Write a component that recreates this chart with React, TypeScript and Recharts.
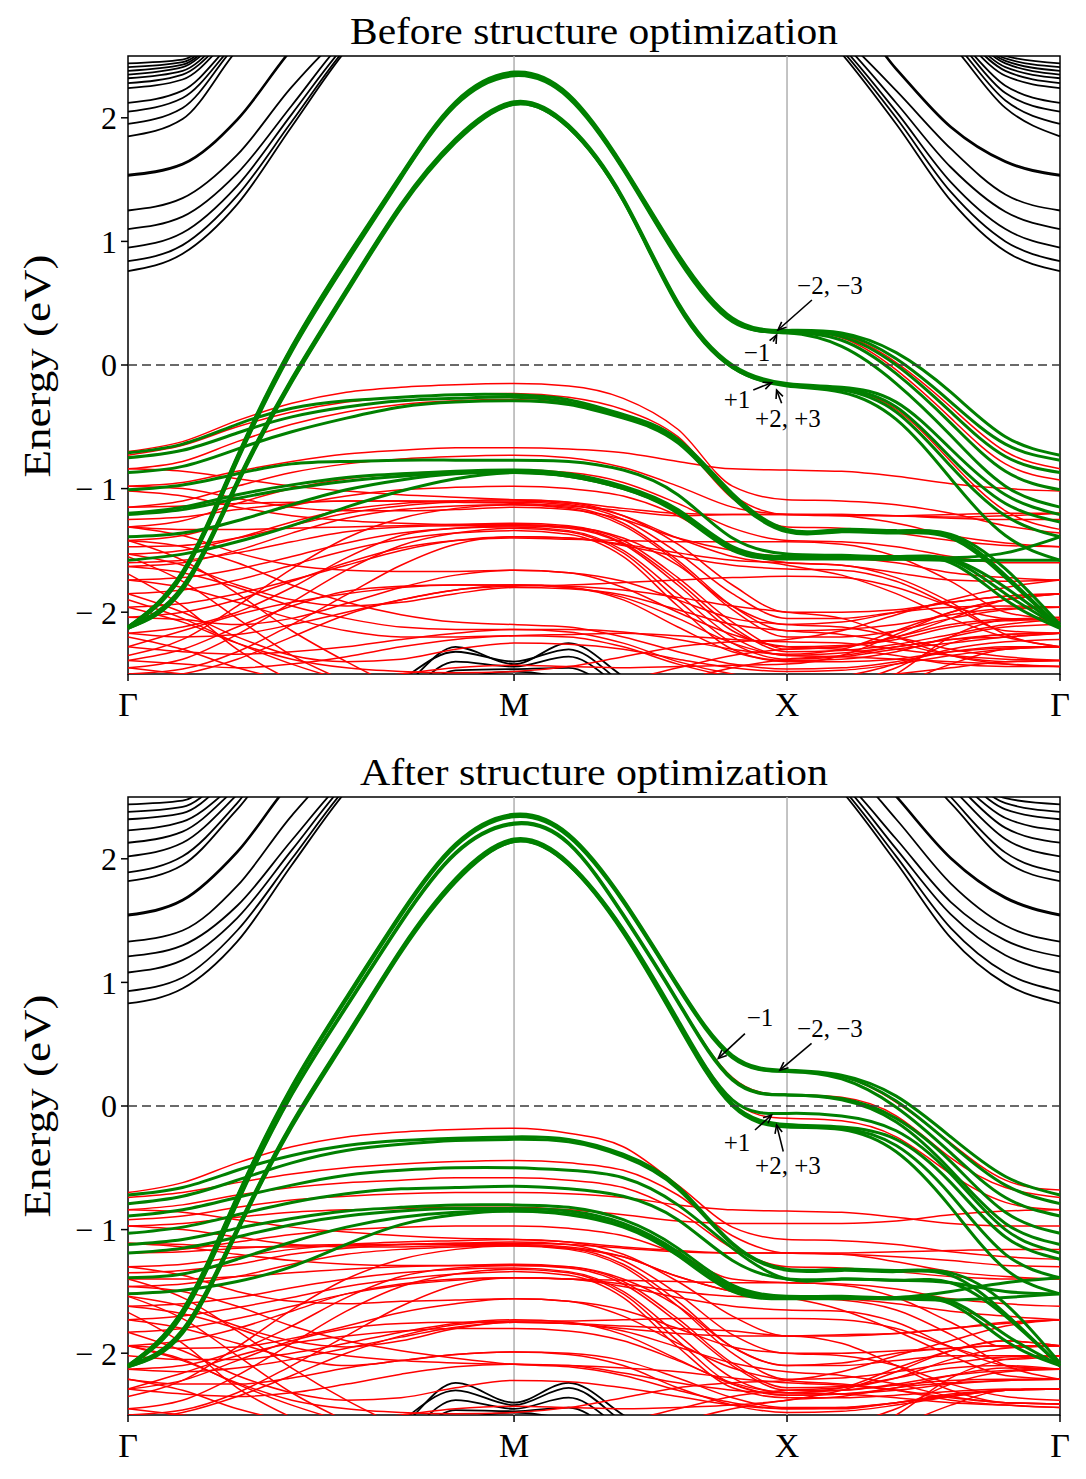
import React from 'react';
import { LineChart, Line, XAxis, YAxis, ReferenceLine, ReferenceArea, ReferenceDot } from 'recharts';

// k-path grid: Γ(0) -> M(0.7071) -> X(1.2071) -> Γ(1.7071)
const K = [0, 0.1, 0.2, 0.3, 0.4, 0.5, 0.6, 0.7071, 0.8071, 0.9071, 1.0071, 1.1071, 1.2071, 1.3071, 1.4071, 1.5071, 1.6071, 1.7071];
const K_TICKS = [0, 0.7071, 1.2071, 1.7071];
const K_LABELS = ['Γ', 'M', 'X', 'Γ'];
const E_TICKS = [-2, -1, 0, 1, 2];
const TITLES = ['Before structure optimization', 'After structure optimization'];
const Y_LABEL = 'Energy (eV)';

// ---------- BEFORE (top panel) ----------
const beforeBlackCond: number[][] = [
  [0.76, 0.90, 1.30, 1.93, 2.55, 3.0, 3.0, 3.0, 3.0, 3.0, 3.0, 3.0, 3.0, 2.52, 1.95, 1.33, 0.92, 0.76],
  [0.84, 0.97, 1.37, 1.97, 2.57, 3.0, 3.0, 3.0, 3.0, 3.0, 3.0, 3.0, 3.0, 2.55, 2.00, 1.40, 1.00, 0.84],
  [0.95, 1.07, 1.45, 2.03, 2.60, 3.0, 3.0, 3.0, 3.0, 3.0, 3.0, 3.0, 3.0, 2.58, 2.05, 1.48, 1.10, 0.95],
  [1.10, 1.20, 1.55, 2.10, 2.65, 3.0, 3.0, 3.0, 3.0, 3.0, 3.0, 3.0, 3.0, 2.62, 2.12, 1.60, 1.24, 1.10],
  [1.25, 1.35, 1.70, 2.25, 2.70, 3.0, 3.0, 3.0, 3.0, 3.0, 3.0, 3.0, 3.0, 2.66, 2.22, 1.75, 1.38, 1.25],
  [1.53, 1.62, 1.98, 2.55, 3.0, 3.0, 3.0, 3.0, 3.0, 3.0, 3.0, 3.0, 3.0, 2.90, 2.39, 1.92, 1.64, 1.53],
  [1.54, 1.63, 1.99, 2.56, 3.0, 3.0, 3.0, 3.0, 3.0, 3.0, 3.0, 3.0, 3.0, 2.91, 2.40, 1.93, 1.65, 1.54],
  [1.85, 1.99, 2.55, 3.0, 3.0, 3.0, 3.0, 3.0, 3.0, 3.0, 3.0, 3.0, 3.0, 3.0, 3.0, 2.60, 2.08, 1.85],
  [1.95, 2.08, 2.60, 3.0, 3.0, 3.0, 3.0, 3.0, 3.0, 3.0, 3.0, 3.0, 3.0, 3.0, 3.0, 2.64, 2.14, 1.95],
  [2.05, 2.16, 2.62, 3.0, 3.0, 3.0, 3.0, 3.0, 3.0, 3.0, 3.0, 3.0, 3.0, 3.0, 3.0, 2.68, 2.20, 2.05],
  [2.12, 2.22, 2.65, 3.0, 3.0, 3.0, 3.0, 3.0, 3.0, 3.0, 3.0, 3.0, 3.0, 3.0, 3.0, 2.70, 2.26, 2.12],
  [2.24, 2.31, 2.70, 3.0, 3.0, 3.0, 3.0, 3.0, 3.0, 3.0, 3.0, 3.0, 3.0, 3.0, 3.0, 2.73, 2.34, 2.24],
  [2.28, 2.35, 2.72, 3.0, 3.0, 3.0, 3.0, 3.0, 3.0, 3.0, 3.0, 3.0, 3.0, 3.0, 3.0, 2.75, 2.38, 2.28],
  [2.32, 2.38, 2.75, 3.0, 3.0, 3.0, 3.0, 3.0, 3.0, 3.0, 3.0, 3.0, 3.0, 3.0, 3.0, 2.78, 2.41, 2.32],
  [2.35, 2.41, 2.78, 3.0, 3.0, 3.0, 3.0, 3.0, 3.0, 3.0, 3.0, 3.0, 3.0, 3.0, 3.0, 2.80, 2.44, 2.35],
  [2.38, 2.43, 2.80, 3.0, 3.0, 3.0, 3.0, 3.0, 3.0, 3.0, 3.0, 3.0, 3.0, 3.0, 3.0, 2.82, 2.46, 2.38],
  [2.41, 2.45, 2.82, 3.0, 3.0, 3.0, 3.0, 3.0, 3.0, 3.0, 3.0, 3.0, 3.0, 3.0, 3.0, 2.84, 2.48, 2.41],
  [2.44, 2.47, 2.85, 3.0, 3.0, 3.0, 3.0, 3.0, 3.0, 3.0, 3.0, 3.0, 3.0, 3.0, 3.0, 2.86, 2.50, 2.44],
];

const beforeBlackVal: number[][] = [
  [-3, -3, -3, -3, -2.9, -2.62, -2.28, -2.42, -2.25, -2.52, -2.8, -3, -3, -3, -3, -3, -3, -3],
  [-3, -3, -3, -3, -2.9, -2.55, -2.32, -2.40, -2.30, -2.58, -2.9, -3, -3, -3, -3, -3, -3, -3],
  [-3, -3, -3, -3, -3, -2.70, -2.40, -2.44, -2.36, -2.62, -2.9, -3, -3, -3, -3, -3, -3, -3],
  [-3, -3, -3, -3, -3, -2.75, -2.47, -2.46, -2.45, -2.70, -3, -3, -3, -3, -3, -3, -3, -3],
  [-3, -3, -3, -3, -3, -2.90, -2.55, -2.48, -2.55, -2.80, -3, -3, -3, -3, -3, -3, -3, -3],
];

const beforeRed: number[][] = [
  [-2.12, -1.67, -0.74, 0.15, 0.87, 1.54, 2.12, 2.35, 2.17, 1.59, 0.88, 0.37, 0.27, 0.24, 0.02, -0.34, -0.70, -0.84],
  [-2.13, -1.69, -0.77, 0.12, 0.85, 1.52, 2.11, 2.35, 2.17, 1.59, 0.88, 0.37, 0.27, 0.22, -0.04, -0.43, -0.80, -0.93],
  [-2.12, -1.81, -0.96, -0.12, 0.59, 1.29, 1.82, 2.12, 1.93, 1.34, 0.50, -0.01, -0.16, -0.19, -0.36, -0.78, -1.18, -1.33],
  [-0.70, -0.62, -0.45, -0.31, -0.22, -0.18, -0.16, -0.15, -0.17, -0.27, -0.52, -0.98, -1.09, -1.10, -1.13, -1.20, -1.30, -1.36],
  [-0.73, -0.65, -0.50, -0.38, -0.30, -0.26, -0.24, -0.23, -0.26, -0.36, -0.58, -1.05, -1.21, -1.21, -1.22, -1.24, -1.25, -1.25],
  [-0.84, -0.78, -0.62, -0.48, -0.38, -0.32, -0.29, -0.28, -0.31, -0.41, -0.62, -1.08, -1.31, -1.32, -1.36, -1.42, -1.46, -1.47],
  [-0.98, -0.95, -0.86, -0.78, -0.72, -0.69, -0.67, -0.67, -0.68, -0.71, -0.78, -0.84, -0.85, -0.86, -0.90, -0.96, -1.00, -1.02],
  [-1.15, -1.10, -0.98, -0.87, -0.80, -0.76, -0.74, -0.73, -0.75, -0.83, -0.98, -1.15, -1.21, -1.22, -1.22, -1.21, -1.20, -1.20],
  [-1.31, -1.26, -1.12, -1.00, -0.92, -0.88, -0.86, -0.85, -0.87, -0.95, -1.12, -1.32, -1.42, -1.43, -1.47, -1.55, -1.60, -1.60],
  [-1.42, -1.38, -1.26, -1.14, -1.06, -1.01, -0.99, -0.98, -1.00, -1.06, -1.22, -1.48, -1.60, -1.62, -1.68, -1.74, -1.75, -1.74],
  [-1.53, -1.50, -1.40, -1.27, -1.17, -1.12, -1.10, -1.09, -1.11, -1.22, -1.45, -1.78, -2.00, -2.00, -1.98, -1.92, -1.87, -1.85],
  [-1.63, -1.60, -1.50, -1.36, -1.24, -1.17, -1.14, -1.13, -1.16, -1.30, -1.60, -1.98, -2.20, -2.20, -2.15, -2.05, -1.98, -1.96],
  [-1.31, -1.33, -1.33, -1.32, -1.31, -1.30, -1.29, -1.28, -1.30, -1.42, -1.72, -2.08, -2.30, -2.28, -2.20, -2.10, -2.06, -2.06],
  [-1.74, -1.72, -1.65, -1.55, -1.44, -1.36, -1.32, -1.31, -1.34, -1.50, -1.85, -2.20, -2.35, -2.33, -2.28, -2.22, -2.18, -2.17],
  [-1.85, -1.82, -1.74, -1.62, -1.50, -1.41, -1.36, -1.34, -1.37, -1.55, -1.95, -2.30, -2.40, -2.40, -2.38, -2.32, -2.29, -2.28],
  [-1.96, -1.93, -1.85, -1.74, -1.62, -1.50, -1.42, -1.39, -1.40, -1.45, -1.52, -1.58, -1.60, -1.62, -1.72, -1.92, -2.18, -2.28],
  [-2.04, -2.06, -2.10, -2.05, -1.93, -1.80, -1.70, -1.66, -1.68, -1.80, -2.00, -2.18, -2.28, -2.30, -2.35, -2.42, -2.44, -2.44],
  [-2.17, -2.20, -2.18, -2.10, -2.00, -1.90, -1.82, -1.78, -1.80, -1.90, -2.12, -2.32, -2.39, -2.38, -2.32, -2.20, -2.12, -2.10],
  [-2.28, -2.32, -2.34, -2.32, -2.28, -2.22, -2.17, -2.14, -2.16, -2.25, -2.40, -2.50, -2.55, -2.55, -2.50, -2.45, -2.40, -2.39],
  [-2.39, -2.42, -2.45, -2.42, -2.36, -2.28, -2.22, -2.19, -2.18, -2.17, -2.19, -2.22, -2.24, -2.25, -2.30, -2.35, -2.38, -2.39],
  [-1.42, -1.58, -1.85, -2.15, -2.40, -2.62, -2.80, -2.90, -2.90, -2.90, -2.90, -2.90, -2.90, -2.80, -2.60, -2.42, -2.30, -2.28],
  [-1.55, -1.75, -2.05, -2.35, -2.56, -2.75, -2.90, -2.95, -2.95, -2.95, -2.95, -2.95, -2.90, -2.70, -2.50, -2.20, -2.06, -2.04],
  [-1.69, -1.95, -2.30, -2.55, -2.70, -2.80, -2.90, -2.95, -2.95, -2.95, -2.95, -2.90, -2.80, -2.60, -2.45, -2.25, -2.18, -2.17],
  [-1.47, -1.46, -1.40, -1.30, -1.20, -1.14, -1.11, -1.11, -1.13, -1.25, -1.52, -1.85, -2.05, -2.05, -2.00, -1.96, -1.95, -1.96],
  [-1.60, -1.58, -1.52, -1.43, -1.35, -1.31, -1.30, -1.30, -1.32, -1.45, -1.78, -2.15, -2.28, -2.27, -2.22, -2.12, -2.07, -2.06],
  [-1.25, -1.23, -1.17, -1.12, -1.10, -1.10, -1.11, -1.12, -1.14, -1.18, -1.22, -1.21, -1.21, -1.21, -1.22, -1.23, -1.22, -1.20],
  [-2.45, -2.50, -2.55, -2.60, -2.55, -2.50, -2.45, -2.43, -2.44, -2.45, -2.44, -2.43, -2.42, -2.35, -2.18, -2.00, -1.90, -1.85],
  [-2.55, -2.50, -2.38, -2.20, -2.02, -1.90, -1.82, -1.79, -1.78, -1.76, -1.74, -1.72, -1.71, -1.72, -1.80, -1.95, -2.05, -2.06],
  [-1.31, -1.38, -1.52, -1.62, -1.66, -1.67, -1.67, -1.66, -1.68, -1.75, -1.90, -2.05, -2.10, -2.12, -2.20, -2.30, -2.36, -2.39],
  [-2.04, -2.00, -1.90, -1.75, -1.60, -1.48, -1.42, -1.40, -1.41, -1.42, -1.43, -1.43, -1.43, -1.45, -1.55, -1.75, -2.00, -2.06],
  [-0.98, -1.00, -1.08, -1.15, -1.18, -1.18, -1.17, -1.15, -1.17, -1.25, -1.40, -1.50, -1.55, -1.56, -1.60, -1.68, -1.72, -1.74],
  [-1.85, -2.00, -2.20, -2.35, -2.40, -2.38, -2.30, -2.25, -2.26, -2.30, -2.38, -2.45, -2.48, -2.47, -2.42, -2.35, -2.30, -2.28],
  [-2.28, -2.15, -2.02, -1.92, -1.85, -1.80, -1.78, -1.78, -1.80, -1.88, -2.05, -2.25, -2.35, -2.36, -2.38, -2.40, -2.42, -2.44],
  [-2.45, -2.38, -2.18, -1.92, -1.66, -1.46, -1.36, -1.32, -1.35, -1.52, -1.90, -2.25, -2.38, -2.36, -2.30, -2.25, -2.20, -2.17],
  [-2.35, -2.22, -1.95, -1.65, -1.40, -1.24, -1.16, -1.13, -1.15, -1.28, -1.58, -1.95, -2.15, -2.14, -2.10, -2.02, -1.97, -1.96],
  [-1.02, -1.06, -1.15, -1.22, -1.26, -1.28, -1.29, -1.29, -1.31, -1.44, -1.75, -2.12, -2.32, -2.31, -2.26, -2.18, -2.10, -2.06],
  [-1.90, -2.05, -2.25, -2.42, -2.55, -2.62, -2.65, -2.65, -2.60, -2.55, -2.45, -2.35, -2.30, -2.28, -2.20, -2.05, -1.90, -1.85],
  [-2.20, -2.30, -2.45, -2.55, -2.60, -2.60, -2.60, -2.60, -2.60, -2.60, -2.55, -2.45, -2.38, -2.35, -2.28, -2.22, -2.20, -2.17],
  [-1.63, -1.68, -1.80, -1.95, -2.05, -2.12, -2.14, -2.14, -2.14, -2.16, -2.22, -2.30, -2.34, -2.30, -2.15, -2.00, -1.90, -1.85],
  [-1.74, -1.80, -1.92, -2.05, -2.15, -2.20, -2.20, -2.19, -2.20, -2.28, -2.42, -2.52, -2.55, -2.52, -2.42, -2.30, -2.24, -2.22],
  [-0.84, -0.86, -0.92, -0.98, -1.02, -1.05, -1.07, -1.09, -1.11, -1.16, -1.20, -1.21, -1.21, -1.22, -1.28, -1.38, -1.44, -1.47],
  [-1.15, -1.14, -1.12, -1.11, -1.10, -1.10, -1.10, -1.10, -1.12, -1.22, -1.40, -1.55, -1.62, -1.70, -1.85, -2.05, -2.20, -2.28],
  [-2.39, -2.30, -2.12, -1.95, -1.83, -1.79, -1.78, -1.78, -1.79, -1.82, -1.88, -1.95, -2.00, -2.05, -2.20, -2.35, -2.42, -2.44],
  [-2.50, -2.46, -2.32, -2.10, -1.86, -1.62, -1.45, -1.39, -1.40, -1.46, -1.55, -1.62, -1.65, -1.66, -1.75, -1.95, -2.15, -2.17],
  [-1.53, -1.62, -1.78, -1.90, -1.95, -1.92, -1.85, -1.80, -1.81, -1.86, -1.98, -2.10, -2.15, -2.18, -2.25, -2.35, -2.40, -2.39],
  [-2.17, -2.12, -2.00, -1.80, -1.56, -1.38, -1.32, -1.30, -1.31, -1.40, -1.62, -1.95, -2.10, -2.08, -2.00, -1.92, -1.87, -1.85],
  [-1.96, -2.08, -2.25, -2.38, -2.45, -2.48, -2.49, -2.48, -2.44, -2.36, -2.28, -2.24, -2.22, -2.15, -2.02, -1.90, -1.80, -1.74],
  [-1.42, -1.47, -1.60, -1.78, -1.92, -2.02, -2.08, -2.10, -2.12, -2.20, -2.32, -2.42, -2.46, -2.45, -2.40, -2.32, -2.28, -2.28],
];

const beforeGreen: number[][] = [
  [-2.12, -1.67, -0.74, 0.15, 0.87, 1.54, 2.13, 2.37, 2.19, 1.61, 0.90, 0.38, 0.28, 0.26, 0.10, -0.22, -0.58, -0.73],
  [-2.12, -1.68, -0.75, 0.14, 0.86, 1.53, 2.12, 2.36, 2.18, 1.60, 0.89, 0.37, 0.27, 0.25, 0.05, -0.30, -0.64, -0.77],
  [-2.12, -1.69, -0.76, 0.13, 0.85, 1.52, 2.11, 2.35, 2.17, 1.59, 0.88, 0.36, 0.27, 0.23, 0.00, -0.38, -0.74, -0.87],
  [-2.13, -1.69, -0.77, 0.12, 0.84, 1.52, 2.11, 2.35, 2.17, 1.59, 0.87, 0.36, 0.26, 0.20, -0.07, -0.47, -0.86, -1.01],
  [-2.13, -1.70, -0.78, 0.11, 0.83, 1.51, 2.10, 2.34, 2.16, 1.58, 0.86, 0.35, 0.26, 0.15, -0.15, -0.57, -0.98, -1.15],
  [-2.12, -1.79, -0.94, -0.11, 0.61, 1.30, 1.83, 2.13, 1.94, 1.35, 0.51, 0.00, -0.15, -0.18, -0.30, -0.68, -1.05, -1.21],
  [-2.12, -1.80, -0.95, -0.12, 0.60, 1.29, 1.82, 2.12, 1.93, 1.34, 0.50, -0.01, -0.16, -0.19, -0.34, -0.75, -1.12, -1.27],
  [-2.13, -1.81, -0.96, -0.13, 0.59, 1.28, 1.81, 2.11, 1.92, 1.33, 0.49, -0.02, -0.16, -0.20, -0.38, -0.82, -1.22, -1.39],
  [-2.13, -1.82, -0.97, -0.14, 0.58, 1.27, 1.80, 2.11, 1.92, 1.33, 0.48, -0.02, -0.17, -0.22, -0.44, -0.92, -1.38, -1.58],
  [-0.71, -0.64, -0.48, -0.35, -0.29, -0.26, -0.24, -0.24, -0.28, -0.40, -0.60, -1.04, -1.33, -1.33, -1.34, -1.37, -1.65, -2.10],
  [-0.75, -0.69, -0.55, -0.42, -0.34, -0.29, -0.27, -0.26, -0.30, -0.42, -0.62, -1.06, -1.34, -1.34, -1.35, -1.38, -1.70, -2.12],
  [-0.87, -0.82, -0.68, -0.54, -0.43, -0.34, -0.30, -0.29, -0.32, -0.43, -0.63, -1.07, -1.35, -1.35, -1.36, -1.40, -1.72, -2.12],
  [-1.01, -0.97, -0.88, -0.80, -0.78, -0.77, -0.77, -0.77, -0.78, -0.85, -1.05, -1.40, -1.53, -1.54, -1.55, -1.57, -1.80, -2.12],
  [-1.20, -1.15, -1.05, -0.97, -0.91, -0.88, -0.86, -0.85, -0.88, -0.98, -1.17, -1.47, -1.55, -1.55, -1.56, -1.58, -1.85, -2.12],
  [-1.21, -1.17, -1.08, -1.00, -0.94, -0.90, -0.87, -0.86, -0.89, -0.99, -1.18, -1.48, -1.56, -1.56, -1.57, -1.60, -1.90, -2.13],
  [-1.39, -1.36, -1.26, -1.13, -1.01, -0.93, -0.88, -0.87, -0.90, -1.00, -1.19, -1.49, -1.56, -1.56, -1.57, -1.58, -1.58, -1.58],
  [-1.58, -1.53, -1.43, -1.30, -1.15, -1.02, -0.92, -0.87, -0.90, -1.00, -1.20, -1.50, -1.57, -1.57, -1.57, -1.56, -1.52, -1.39],
];

// ---------- AFTER (bottom panel) ----------
const afterBlackCond: number[][] = [
  [0.83, 0.95, 1.33, 1.95, 2.55, 3.0, 3.0, 3.0, 3.0, 3.0, 3.0, 3.0, 3.0, 2.55, 1.97, 1.36, 0.99, 0.83],
  [0.93, 1.04, 1.42, 2.00, 2.58, 3.0, 3.0, 3.0, 3.0, 3.0, 3.0, 3.0, 3.0, 2.58, 2.02, 1.44, 1.08, 0.93],
  [1.08, 1.18, 1.52, 2.07, 2.62, 3.0, 3.0, 3.0, 3.0, 3.0, 3.0, 3.0, 3.0, 2.62, 2.08, 1.55, 1.22, 1.08],
  [1.21, 1.30, 1.62, 2.15, 2.66, 3.0, 3.0, 3.0, 3.0, 3.0, 3.0, 3.0, 3.0, 2.66, 2.16, 1.65, 1.34, 1.21],
  [1.33, 1.42, 1.78, 2.35, 2.80, 3.0, 3.0, 3.0, 3.0, 3.0, 3.0, 3.0, 3.0, 2.80, 2.32, 1.80, 1.46, 1.33],
  [1.54, 1.66, 2.05, 2.62, 3.0, 3.0, 3.0, 3.0, 3.0, 3.0, 3.0, 3.0, 3.0, 3.0, 2.50, 2.00, 1.68, 1.54],
  [1.55, 1.67, 2.06, 2.63, 3.0, 3.0, 3.0, 3.0, 3.0, 3.0, 3.0, 3.0, 3.0, 3.0, 2.51, 2.01, 1.69, 1.55],
  [1.82, 1.95, 2.40, 2.90, 3.0, 3.0, 3.0, 3.0, 3.0, 3.0, 3.0, 3.0, 3.0, 3.0, 2.90, 2.45, 1.98, 1.82],
  [1.89, 2.02, 2.45, 3.0, 3.0, 3.0, 3.0, 3.0, 3.0, 3.0, 3.0, 3.0, 3.0, 3.0, 3.0, 2.50, 2.05, 1.89],
  [2.02, 2.13, 2.52, 3.0, 3.0, 3.0, 3.0, 3.0, 3.0, 3.0, 3.0, 3.0, 3.0, 3.0, 3.0, 2.58, 2.16, 2.02],
  [2.13, 2.22, 2.58, 3.0, 3.0, 3.0, 3.0, 3.0, 3.0, 3.0, 3.0, 3.0, 3.0, 3.0, 3.0, 2.64, 2.25, 2.13],
  [2.23, 2.30, 2.62, 3.0, 3.0, 3.0, 3.0, 3.0, 3.0, 3.0, 3.0, 3.0, 3.0, 3.0, 3.0, 2.68, 2.33, 2.23],
  [2.32, 2.37, 2.70, 3.0, 3.0, 3.0, 3.0, 3.0, 3.0, 3.0, 3.0, 3.0, 3.0, 3.0, 3.0, 2.74, 2.40, 2.32],
  [2.38, 2.42, 2.75, 3.0, 3.0, 3.0, 3.0, 3.0, 3.0, 3.0, 3.0, 3.0, 3.0, 3.0, 3.0, 2.78, 2.45, 2.38],
  [2.44, 2.47, 2.80, 3.0, 3.0, 3.0, 3.0, 3.0, 3.0, 3.0, 3.0, 3.0, 3.0, 3.0, 3.0, 2.82, 2.49, 2.44],
];

const afterBlackVal: number[][] = [
  [-3, -3, -3, -3, -2.9, -2.60, -2.24, -2.40, -2.24, -2.50, -2.8, -3, -3, -3, -3, -3, -3, -3],
  [-3, -3, -3, -3, -2.9, -2.55, -2.30, -2.42, -2.28, -2.56, -2.9, -3, -3, -3, -3, -3, -3, -3],
  [-3, -3, -3, -3, -3, -2.70, -2.38, -2.45, -2.36, -2.62, -2.9, -3, -3, -3, -3, -3, -3, -3],
  [-3, -3, -3, -3, -3, -2.75, -2.46, -2.47, -2.44, -2.70, -3, -3, -3, -3, -3, -3, -3, -3],
  [-3, -3, -3, -3, -3, -2.90, -2.55, -2.48, -2.55, -2.80, -3, -3, -3, -3, -3, -3, -3, -3],
];

const afterRed: number[][] = [
  [-2.10, -1.65, -0.74, 0.15, 0.87, 1.55, 2.11, 2.35, 2.18, 1.65, 0.96, 0.40, 0.28, 0.24, 0.03, -0.30, -0.60, -0.68],
  [-2.11, -1.68, -0.78, 0.10, 0.81, 1.49, 2.05, 2.29, 2.13, 1.55, 0.85, 0.23, 0.09, 0.07, -0.08, -0.42, -0.66, -0.74],
  [-2.10, -1.82, -1.00, -0.15, 0.56, 1.26, 1.83, 2.15, 1.97, 1.43, 0.70, 0.05, -0.10, -0.12, -0.25, -0.55, -0.78, -0.84],
  [-0.70, -0.62, -0.46, -0.33, -0.25, -0.21, -0.19, -0.18, -0.22, -0.33, -0.64, -0.98, -1.08, -1.09, -1.12, -1.18, -1.22, -1.24],
  [-0.74, -0.70, -0.62, -0.55, -0.50, -0.47, -0.45, -0.44, -0.46, -0.52, -0.72, -1.05, -1.19, -1.20, -1.22, -1.25, -1.29, -1.30],
  [-0.84, -0.80, -0.72, -0.66, -0.62, -0.60, -0.58, -0.58, -0.60, -0.66, -0.85, -1.15, -1.30, -1.31, -1.34, -1.38, -1.40, -1.40],
  [-0.92, -0.89, -0.82, -0.76, -0.73, -0.71, -0.70, -0.70, -0.71, -0.74, -0.80, -0.84, -0.85, -0.86, -0.90, -0.95, -0.97, -0.97],
  [-0.97, -0.95, -0.90, -0.86, -0.84, -0.83, -0.82, -0.82, -0.84, -0.88, -0.93, -0.95, -0.95, -0.95, -0.93, -0.88, -0.85, -0.84],
  [-1.19, -1.16, -1.10, -1.04, -1.00, -0.98, -0.97, -0.97, -0.99, -1.05, -1.20, -1.40, -1.43, -1.44, -1.48, -1.56, -1.60, -1.62],
  [-1.30, -1.28, -1.22, -1.16, -1.12, -1.10, -1.09, -1.08, -1.10, -1.20, -1.42, -1.70, -1.86, -1.86, -1.84, -1.80, -1.76, -1.73],
  [-1.35, -1.33, -1.28, -1.20, -1.15, -1.12, -1.11, -1.10, -1.12, -1.25, -1.52, -1.85, -2.00, -2.00, -1.98, -1.96, -1.94, -1.94],
  [-1.46, -1.44, -1.38, -1.28, -1.20, -1.16, -1.14, -1.13, -1.16, -1.30, -1.62, -2.00, -2.21, -2.20, -2.15, -2.08, -2.03, -2.02],
  [-1.40, -1.40, -1.38, -1.35, -1.32, -1.30, -1.29, -1.28, -1.30, -1.42, -1.72, -2.08, -2.28, -2.27, -2.20, -2.12, -2.10, -2.13],
  [-1.62, -1.60, -1.55, -1.47, -1.40, -1.35, -1.32, -1.31, -1.34, -1.50, -1.85, -2.20, -2.32, -2.30, -2.26, -2.22, -2.21, -2.21],
  [-1.73, -1.70, -1.63, -1.55, -1.46, -1.40, -1.36, -1.34, -1.37, -1.55, -1.95, -2.28, -2.36, -2.36, -2.34, -2.31, -2.29, -2.29],
  [-1.83, -1.80, -1.72, -1.62, -1.52, -1.45, -1.41, -1.39, -1.40, -1.44, -1.50, -1.54, -1.55, -1.57, -1.65, -1.85, -2.10, -2.21],
  [-1.94, -1.96, -1.95, -1.88, -1.78, -1.67, -1.60, -1.56, -1.58, -1.70, -1.92, -2.12, -2.22, -2.25, -2.30, -2.38, -2.42, -2.44],
  [-2.02, -2.05, -2.05, -2.00, -1.92, -1.83, -1.76, -1.73, -1.75, -1.85, -2.05, -2.25, -2.34, -2.33, -2.28, -2.18, -2.12, -2.13],
  [-2.13, -2.15, -2.12, -2.05, -1.96, -1.87, -1.79, -1.75, -1.76, -1.78, -1.80, -1.82, -1.86, -1.85, -1.84, -1.80, -1.75, -1.73],
  [-2.21, -2.25, -2.25, -2.20, -2.12, -2.06, -2.01, -1.99, -2.01, -2.10, -2.28, -2.42, -2.48, -2.47, -2.42, -2.35, -2.30, -2.29],
  [-2.29, -2.33, -2.35, -2.32, -2.25, -2.17, -2.11, -2.09, -2.10, -2.12, -2.15, -2.20, -2.24, -2.26, -2.30, -2.36, -2.40, -2.41],
  [-1.40, -1.55, -1.82, -2.12, -2.38, -2.60, -2.80, -2.90, -2.90, -2.90, -2.90, -2.90, -2.90, -2.80, -2.60, -2.42, -2.30, -2.29],
  [-1.54, -1.72, -2.02, -2.32, -2.55, -2.75, -2.90, -2.95, -2.95, -2.95, -2.95, -2.95, -2.90, -2.70, -2.50, -2.20, -2.05, -2.02],
  [-1.67, -1.92, -2.28, -2.52, -2.70, -2.80, -2.90, -2.95, -2.95, -2.95, -2.95, -2.90, -2.80, -2.60, -2.45, -2.25, -2.15, -2.13],
  [-1.11, -1.12, -1.14, -1.14, -1.13, -1.12, -1.11, -1.11, -1.12, -1.15, -1.18, -1.19, -1.19, -1.19, -1.18, -1.17, -1.16, -1.16],
  [-2.45, -2.50, -2.55, -2.60, -2.55, -2.50, -2.45, -2.43, -2.44, -2.45, -2.44, -2.42, -2.38, -2.30, -2.15, -1.98, -1.90, -1.94],
  [-2.55, -2.48, -2.35, -2.18, -2.00, -1.86, -1.77, -1.74, -1.74, -1.73, -1.72, -1.72, -1.72, -1.73, -1.80, -1.95, -2.05, -2.02],
  [-1.30, -1.37, -1.50, -1.58, -1.60, -1.58, -1.57, -1.56, -1.58, -1.65, -1.80, -1.95, -2.00, -2.02, -2.10, -2.25, -2.35, -2.38],
  [-1.94, -1.90, -1.80, -1.66, -1.52, -1.44, -1.40, -1.39, -1.40, -1.41, -1.42, -1.43, -1.43, -1.45, -1.55, -1.75, -1.95, -1.94],
  [-0.97, -1.00, -1.06, -1.12, -1.14, -1.14, -1.13, -1.13, -1.15, -1.22, -1.38, -1.50, -1.55, -1.56, -1.60, -1.66, -1.70, -1.73],
  [-1.83, -1.98, -2.18, -2.32, -2.38, -2.36, -2.28, -2.22, -2.23, -2.28, -2.35, -2.42, -2.45, -2.45, -2.40, -2.35, -2.30, -2.29],
  [-2.29, -2.16, -2.02, -1.92, -1.86, -1.82, -1.80, -1.80, -1.82, -1.90, -2.06, -2.24, -2.32, -2.33, -2.36, -2.40, -2.42, -2.44],
  [-2.45, -2.38, -2.18, -1.92, -1.66, -1.46, -1.36, -1.32, -1.35, -1.52, -1.90, -2.25, -2.34, -2.33, -2.30, -2.25, -2.22, -2.21],
  [-2.35, -2.22, -1.95, -1.65, -1.40, -1.24, -1.16, -1.13, -1.15, -1.28, -1.58, -1.95, -2.10, -2.10, -2.06, -2.02, -2.02, -2.02],
  [-1.11, -1.14, -1.20, -1.25, -1.28, -1.29, -1.29, -1.29, -1.31, -1.44, -1.75, -2.10, -2.30, -2.30, -2.25, -2.18, -2.14, -2.13],
  [-1.94, -2.05, -2.25, -2.42, -2.55, -2.62, -2.65, -2.65, -2.60, -2.55, -2.45, -2.35, -2.30, -2.28, -2.20, -2.05, -1.96, -1.94],
  [-2.21, -2.30, -2.45, -2.55, -2.60, -2.60, -2.60, -2.60, -2.60, -2.60, -2.55, -2.45, -2.38, -2.35, -2.28, -2.24, -2.22, -2.21],
  [-1.62, -1.68, -1.80, -1.95, -2.02, -2.06, -2.08, -2.09, -2.10, -2.16, -2.24, -2.30, -2.32, -2.28, -2.12, -1.98, -1.90, -1.94],
  [-1.73, -1.80, -1.92, -2.04, -2.10, -2.06, -2.01, -1.99, -2.00, -2.06, -2.20, -2.36, -2.44, -2.44, -2.40, -2.33, -2.30, -2.29],
  [-0.84, -0.86, -0.92, -0.98, -1.02, -1.05, -1.07, -1.08, -1.10, -1.14, -1.17, -1.19, -1.19, -1.20, -1.26, -1.34, -1.38, -1.40],
  [-1.19, -1.18, -1.15, -1.13, -1.12, -1.12, -1.12, -1.12, -1.14, -1.22, -1.38, -1.50, -1.55, -1.65, -1.82, -2.02, -2.18, -2.21],
  [-2.29, -2.22, -2.06, -1.90, -1.80, -1.76, -1.75, -1.75, -1.76, -1.80, -1.84, -1.86, -1.86, -1.92, -2.10, -2.30, -2.40, -2.41],
  [-2.50, -2.46, -2.32, -2.10, -1.86, -1.62, -1.45, -1.39, -1.40, -1.46, -1.55, -1.62, -1.65, -1.66, -1.75, -1.95, -2.10, -2.13],
  [-1.54, -1.62, -1.78, -1.90, -1.95, -1.90, -1.80, -1.75, -1.76, -1.82, -1.95, -2.08, -2.15, -2.18, -2.25, -2.35, -2.40, -2.41],
  [-2.13, -2.10, -1.98, -1.78, -1.55, -1.38, -1.31, -1.29, -1.30, -1.40, -1.62, -1.95, -2.10, -2.08, -2.00, -1.96, -1.94, -1.94],
  [-1.94, -2.06, -2.24, -2.38, -2.45, -2.48, -2.49, -2.48, -2.44, -2.36, -2.28, -2.24, -2.22, -2.15, -2.02, -1.90, -1.78, -1.73],
  [-1.46, -1.50, -1.62, -1.78, -1.90, -1.98, -2.04, -2.09, -2.11, -2.18, -2.30, -2.40, -2.45, -2.44, -2.40, -2.34, -2.30, -2.29],
];

const afterGreen: number[][] = [
  [-2.10, -1.65, -0.73, 0.16, 0.88, 1.56, 2.12, 2.36, 2.20, 1.67, 0.98, 0.41, 0.29, 0.25, 0.08, -0.25, -0.57, -0.72],
  [-2.10, -1.66, -0.74, 0.15, 0.87, 1.55, 2.11, 2.35, 2.19, 1.66, 0.97, 0.40, 0.28, 0.24, 0.04, -0.31, -0.64, -0.79],
  [-2.11, -1.67, -0.75, 0.14, 0.86, 1.54, 2.10, 2.34, 2.18, 1.65, 0.96, 0.39, 0.28, 0.22, -0.01, -0.38, -0.74, -0.89],
  [-2.11, -1.68, -0.78, 0.10, 0.81, 1.49, 2.05, 2.29, 2.13, 1.55, 0.85, 0.22, 0.09, 0.06, -0.10, -0.45, -0.86, -1.03],
  [-2.11, -1.69, -0.79, 0.09, 0.80, 1.48, 2.04, 2.28, 2.12, 1.54, 0.84, 0.21, 0.09, 0.05, -0.13, -0.52, -0.95, -1.12],
  [-2.10, -1.81, -0.99, -0.14, 0.57, 1.27, 1.84, 2.16, 1.97, 1.43, 0.70, 0.05, -0.06, -0.08, -0.20, -0.55, -1.00, -1.19],
  [-2.10, -1.82, -1.00, -0.15, 0.56, 1.26, 1.83, 2.15, 1.96, 1.42, 0.68, 0.02, -0.15, -0.17, -0.27, -0.62, -1.06, -1.24],
  [-2.11, -1.83, -1.01, -0.16, 0.55, 1.25, 1.82, 2.14, 1.95, 1.41, 0.67, 0.01, -0.16, -0.18, -0.32, -0.72, -1.20, -1.39],
  [-2.11, -1.84, -1.02, -0.17, 0.54, 1.24, 1.81, 2.14, 1.95, 1.40, 0.66, 0.00, -0.17, -0.19, -0.37, -0.82, -1.32, -1.52],
  [-0.72, -0.66, -0.52, -0.40, -0.32, -0.28, -0.26, -0.25, -0.27, -0.39, -0.65, -1.11, -1.32, -1.32, -1.33, -1.35, -1.60, -2.08],
  [-0.79, -0.73, -0.60, -0.46, -0.36, -0.31, -0.28, -0.27, -0.29, -0.41, -0.67, -1.12, -1.33, -1.33, -1.34, -1.37, -1.68, -2.10],
  [-0.89, -0.84, -0.74, -0.64, -0.56, -0.52, -0.50, -0.50, -0.52, -0.58, -0.80, -1.15, -1.40, -1.40, -1.41, -1.43, -1.70, -2.10],
  [-1.03, -0.98, -0.88, -0.78, -0.71, -0.67, -0.66, -0.65, -0.67, -0.73, -0.92, -1.25, -1.40, -1.40, -1.41, -1.43, -1.50, -1.52],
  [-1.12, -1.08, -0.99, -0.91, -0.85, -0.82, -0.80, -0.80, -0.82, -0.92, -1.15, -1.45, -1.54, -1.54, -1.55, -1.58, -1.85, -2.10],
  [-1.19, -1.15, -1.06, -0.96, -0.89, -0.85, -0.83, -0.83, -0.85, -0.95, -1.18, -1.47, -1.55, -1.55, -1.56, -1.60, -1.90, -2.10],
  [-1.39, -1.36, -1.24, -1.10, -0.98, -0.90, -0.86, -0.85, -0.87, -0.97, -1.20, -1.49, -1.55, -1.55, -1.56, -1.57, -1.55, -1.52],
  [-1.52, -1.49, -1.42, -1.30, -1.12, -0.96, -0.88, -0.85, -0.88, -0.98, -1.21, -1.50, -1.56, -1.56, -1.55, -1.50, -1.43, -1.39],
];

// annotations: label position, arrow tail, arrow head (k, E)
const beforeNotes = [
  { text: '−2, −3', at: [1.2857, 0.64], tail: [1.2527, 0.526], head: [1.1905, 0.283] },
  { text: '−1', at: [1.152, 0.105], tail: [1.1817, 0.189], head: [1.188, 0.243] },
  { text: '+1', at: [1.1154, -0.283], tail: [1.1453, -0.202], head: [1.1789, -0.143] },
  { text: '+2, +3', at: [1.2088, -0.429], tail: [1.1972, -0.31], head: [1.188, -0.202] },
];
const afterNotes = [
  { text: '−1', at: [1.1575, 0.718], tail: [1.13, 0.586], head: [1.0812, 0.385] },
  { text: '−2, −3', at: [1.2857, 0.629], tail: [1.252, 0.506], head: [1.194, 0.29] },
  { text: '+1', at: [1.1154, -0.298], tail: [1.1484, -0.194], head: [1.1789, -0.073] },
  { text: '+2, +3', at: [1.2088, -0.484], tail: [1.2002, -0.368], head: [1.188, -0.153] },
];

const SERIF = "'Liberation Serif', 'DejaVu Serif', serif";
const W = 1086;
const H = 740;

const ArrowShape = (p: any) => {
  const { x1, y1, x2, y2 } = p;
  const ang = Math.atan2(y2 - y1, x2 - x1);
  const L = 9;
  const a = 0.42;
  const ax = x2 - L * Math.cos(ang - a);
  const ay = y2 - L * Math.sin(ang - a);
  const bx = x2 - L * Math.cos(ang + a);
  const by = y2 - L * Math.sin(ang + a);
  return (
    <g>
      <line x1={x1} y1={y1} x2={x2} y2={y2} stroke="#000" strokeWidth={1.6} />
      <polyline points={`${ax},${ay} ${x2},${y2} ${bx},${by}`} fill="none" stroke="#000" strokeWidth={1.6} />
    </g>
  );
};

const fmtE = (v: number) => (v < 0 ? '\u2212\u2005' + Math.abs(v) : String(v));
const fmtK = (v: number) => {
  const i = K_TICKS.findIndex((t) => Math.abs(t - v) < 1e-6);
  return i >= 0 ? K_LABELS[i] : '';
};

function buildRows(black: number[][], val: number[][], red: number[][], green: number[][]) {
  return K.map((k, i) => {
    const row: Record<string, number> = { k };
    black.forEach((b, j) => (row['b' + j] = b[i]));
    val.forEach((b, j) => (row['v' + j] = b[i]));
    red.forEach((b, j) => (row['r' + j] = b[i]));
    green.forEach((b, j) => (row['g' + j] = b[i]));
    return row;
  });
}

function Panel(props: {
  black: number[][];
  val: number[][];
  red: number[][];
  green: number[][];
  notes: { text: string; at: number[]; tail: number[]; head: number[] }[];
}) {
  const { black, val, red, green, notes } = props;
  const rows = buildRows(black, val, red, green);
  return (
    <LineChart width={W} height={H} data={rows} margin={{ top: 56, right: 26, bottom: 26, left: 68 }}>
      <XAxis
        type="number"
        dataKey="k"
        domain={[0, 1.7071]}
        ticks={K_TICKS}
        interval={0}
        tickFormatter={fmtK}
        tick={{ fontSize: 34, fill: '#000', fontFamily: SERIF }}
        tickSize={7}
        tickMargin={11}
        height={40}
        axisLine={false}
        tickLine={{ stroke: '#000', strokeWidth: 1.5 }}
      />
      <YAxis
        type="number"
        domain={[-2.5, 2.5]}
        allowDataOverflow
        ticks={E_TICKS}
        interval={0}
        tickFormatter={fmtE}
        tick={{ fontSize: 32, fill: '#000', fontFamily: SERIF }}
        tickSize={7}
        tickMargin={4}
        width={60}
        axisLine={false}
        tickLine={{ stroke: '#000', strokeWidth: 1.5 }}
      />
      <ReferenceLine x={0.7071} stroke="#b0b0b0" strokeWidth={1.5} />
      <ReferenceLine x={1.2071} stroke="#b0b0b0" strokeWidth={1.5} />
      {black.map((_, j) => (
        <Line key={'b' + j} dataKey={'b' + j} type="monotone" stroke="#000" strokeWidth={1.8} dot={false} activeDot={false} isAnimationActive={false} />
      ))}
      {val.map((_, j) => (
        <Line key={'v' + j} dataKey={'v' + j} type="monotone" stroke="#000" strokeWidth={1.8} dot={false} activeDot={false} isAnimationActive={false} />
      ))}
      {red.map((_, j) => (
        <Line key={'r' + j} dataKey={'r' + j} type={j < 3 ? 'natural' : 'monotone'} stroke="#ff0000" strokeWidth={1.5} dot={false} activeDot={false} isAnimationActive={false} />
      ))}
      {green.map((_, j) => (
        <Line key={'g' + j} dataKey={'g' + j} type="natural" stroke="#008000" strokeWidth={3} dot={false} activeDot={false} isAnimationActive={false} />
      ))}
      <ReferenceLine y={0} stroke="#3a3a3a" strokeWidth={1.6} strokeDasharray="9 5" />
      <ReferenceArea x1={0} x2={1.7071} y1={-2.5} y2={2.5} fill="none" fillOpacity={0} stroke="#000" strokeWidth={1.5} />
      {notes.map((n, i) => (
        <ReferenceLine
          key={'a' + i}
          segment={[
            { x: n.tail[0], y: n.tail[1] },
            { x: n.head[0], y: n.head[1] },
          ]}
          stroke="#000"
          shape={ArrowShape}
        />
      ))}
      {notes.map((n, i) => (
        <ReferenceDot
          key={'t' + i}
          x={n.at[0]}
          y={n.at[1]}
          r={0}
          shape={(p: any) => (
            <text x={p.cx} y={p.cy} textAnchor="middle" dominantBaseline="central" fontSize={25} fontFamily={SERIF} fill="#000">
              {n.text}
            </text>
          )}
        />
      ))}
    </LineChart>
  );
}

export default function App() {
  return (
    <div style={{ position: 'absolute', left: 0, top: 0, width: 1086, height: 1479, background: '#fff', overflow: 'hidden' }}>
      <div style={{ position: 'absolute', left: 0, top: 0 }}>
        <Panel black={beforeBlackCond} val={beforeBlackVal} red={beforeRed} green={beforeGreen} notes={beforeNotes} />
      </div>
      <div style={{ position: 'absolute', left: 0, top: 741 }}>
        <Panel black={afterBlackCond} val={afterBlackVal} red={afterRed} green={afterGreen} notes={afterNotes} />
      </div>
      <svg width={1086} height={1479} style={{ position: 'absolute', left: 0, top: 0, pointerEvents: 'none' }}>
        <text x={594} y={44} textAnchor="middle" fontSize={37} fontFamily={SERIF} textLength={488} lengthAdjust="spacingAndGlyphs">
          {TITLES[0]}
        </text>
        <text x={594} y={785} textAnchor="middle" fontSize={37} fontFamily={SERIF} textLength={468} lengthAdjust="spacingAndGlyphs">
          {TITLES[1]}
        </text>
        <text transform="translate(50,366) rotate(-90)" textAnchor="middle" fontSize={37} fontFamily={SERIF} textLength={223} lengthAdjust="spacingAndGlyphs">
          {Y_LABEL}
        </text>
        <text transform="translate(50,1106) rotate(-90)" textAnchor="middle" fontSize={37} fontFamily={SERIF} textLength={223} lengthAdjust="spacingAndGlyphs">
          {Y_LABEL}
        </text>
      </svg>
    </div>
  );
}
